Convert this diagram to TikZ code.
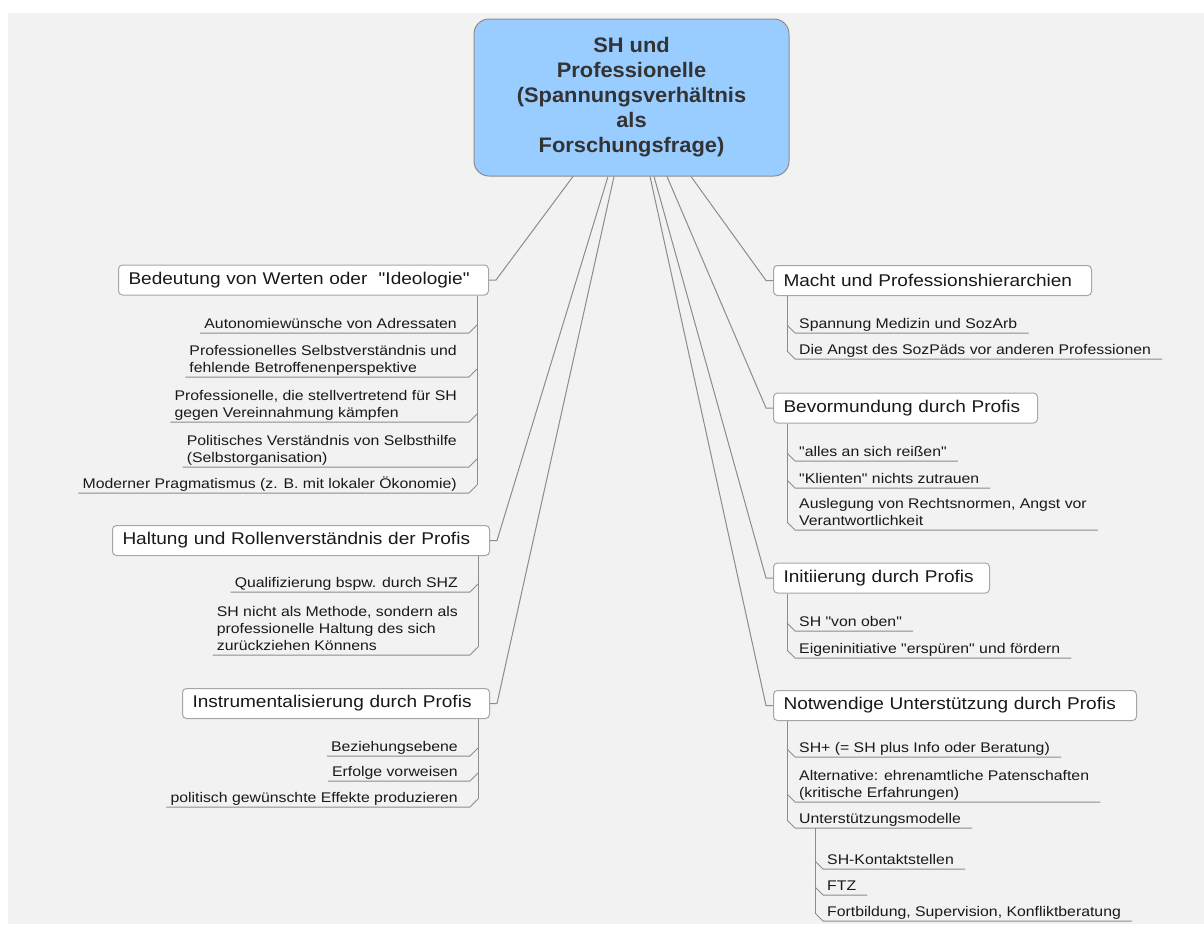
\documentclass[tikz,border=0pt]{standalone}
\usepackage{fontspec}
\setmainfont{Liberation Sans}
\newfontfamily\rootfont[FakeStretch=1.04]{Liberation Sans}
\newfontfamily\branchfont[FakeStretch=1.12]{Liberation Sans}
\newfontfamily\itemfont[FakeStretch=1.13]{Liberation Sans}
\definecolor{rootblue}{RGB}{153,204,255}

\begin{document}
\begin{tikzpicture}[x=1pt, y=-1pt,
    link/.style={draw=black!45, line width=1pt},
    root/.style={draw=black!45, fill=rootblue, line width=1pt, rounded corners=15pt,
        minimum width=315pt, minimum height=157pt, align=center, text=black!80,
        font=\rootfont\bfseries\fontsize{21}{25}\selectfont},
    branch/.style={draw=black!35, fill=white, line width=1pt, rounded corners=4pt,
        minimum height=30pt, inner xsep=10pt, inner ysep=0pt, align=left, text=black!90,
        font=\branchfont\fontsize{17}{20}\selectfont},
    subl/.style={anchor=south east, inner xsep=4pt, inner ysep=0pt, text depth=4pt,
        align=left, text=black!90, font=\itemfont\fontsize{14}{17}\selectfont},
    subr/.style={subl, anchor=south west}]

% Border and background
\useasboundingbox (0,0) rectangle (1204,924);
\fill [black!5] (8,13) rectangle (1204,924);

% Central topic
\node [root] (root) at (631.5,97.5) {SH und\\Professionelle\\(Spannungsverhältnis\\als\\Forschungsfrage)};

%%%%%%%%%%%%%%%%%%%%%% LEFT SIDE %%%%%%%%%%%%%%%%%%%%%%

\node [branch, text width=350pt, anchor=east] (werte) at (489,280) {Bedeutung von Werten oder\ \ "Ideologie"};
\node [branch, text width=357pt, anchor=east] (haltung) at (490,540.5) {Haltung und Rollenverständnis der Profis};
\node [branch, text width=287pt, anchor=east] (instr) at (490,703.5) {Instrumentalisierung durch Profis};

\draw [link] ([xshift=-58.5pt]root.south) -- ([xshift=7pt]werte.east) -- (werte.east);
\draw [link] ([xshift=-23.5pt]root.south) -- ([xshift=7pt]haltung.east) -- (haltung.east);
\draw [link] ([xshift=-17.5pt]root.south) -- ([xshift=7pt]instr.east) -- (instr.east);

% Werte
\node [subl] (w1) at (461,333) {Autonomiewünsche von Adressaten};
\node [subl] (w2) at (461,377) {Professionelles Selbstverständnis und\\fehlende Betroffenenperspektive};
\node [subl] (w3) at (461,422) {Professionelle, die stellvertretend für SH\\gegen Vereinnahmung kämpfen};
\node [subl] (w4) at (461,467) {Politisches Verständnis von Selbsthilfe\\(Selbstorganisation)};
\node [subl] (w5) at (461,493) {Moderner Pragmatismus (z. B. mit lokaler Ökonomie)};
\draw [link] (w1.south west) -- ([xshift=8pt]w1.south east) -- ++(8,-8) coordinate (w1k);
\draw [link] (w2.south west) -- ([xshift=8pt]w2.south east) -- ++(8,-8) coordinate (w2k);
\draw [link] (w3.south west) -- ([xshift=8pt]w3.south east) -- ++(8,-8) coordinate (w3k);
\draw [link] (w4.south west) -- ([xshift=8pt]w4.south east) -- ++(8,-8) coordinate (w4k);
\draw [link] (w5.south west) -- ([xshift=8pt]w5.south east) -- ++(8,-8) coordinate (w5k);
\draw [link] (werte.south -| w5k) -- (w5k);

% Haltung
\node [subl] (h1) at (462,592) {Qualifizierung bspw. durch SHZ};
\node [subl] (h2) at (462,655) {SH nicht als Methode, sondern als\\professionelle Haltung des sich\\zurückziehen Könnens};
\draw [link] (h1.south west) -- ([xshift=8pt]h1.south east) -- ++(8,-8) coordinate (h1k);
\draw [link] (h2.south west) -- ([xshift=8pt]h2.south east) -- ++(8,-8) coordinate (h2k);
\draw [link] (haltung.south -| h2k) -- (h2k);

% Instrumentalisierung
\node [subl] (i1) at (462,756) {Beziehungsebene};
\node [subl] (i2) at (462,781) {Erfolge vorweisen};
\node [subl] (i3) at (462,807) {politisch gewünschte Effekte produzieren};
\draw [link] (i1.south west) -- ([xshift=8pt]i1.south east) -- ++(8,-8) coordinate (i1k);
\draw [link] (i2.south west) -- ([xshift=8pt]i2.south east) -- ++(8,-8) coordinate (i2k);
\draw [link] (i3.south west) -- ([xshift=8pt]i3.south east) -- ++(8,-8) coordinate (i3k);
\draw [link] (instr.south -| i3k) -- (i3k);

%%%%%%%%%%%%%%%%%%%%%% RIGHT SIDE %%%%%%%%%%%%%%%%%%%%%%

\node [branch, text width=298pt, anchor=west] (macht) at (773,280.5) {Macht und Professionshierarchien};
\node [branch, text width=244pt, anchor=west] (bevor) at (773,408) {Bevormundung durch Profis};
\node [branch, text width=196pt, anchor=west] (init) at (773,578) {Initiierung durch Profis};
\node [branch, text width=343pt, anchor=west] (notw) at (773,705.5) {Notwendige Unterstützung durch Profis};

\draw [link] ([xshift=59.5pt]root.south) -- ([xshift=-7pt]macht.west) -- (macht.west);
\draw [link] ([xshift=35.5pt]root.south) -- ([xshift=-7pt]bevor.west) -- (bevor.west);
\draw [link] ([xshift=22.5pt]root.south) -- ([xshift=-7pt]init.west) -- (init.west);
\draw [link] ([xshift=18.5pt]root.south) -- ([xshift=-7pt]notw.west) -- (notw.west);

% Macht
\node [subr] (m1) at (795,333) {Spannung Medizin und SozArb};
\node [subr] (m2) at (795,359) {Die Angst des SozPäds vor anderen Professionen};
\draw [link] ([xshift=7pt]m1.south east) -- (m1.south west) -- ++(-8,-8) coordinate (m1k);
\draw [link] ([xshift=7pt]m2.south east) -- (m2.south west) -- ++(-8,-8) coordinate (m2k);
\draw [link] (macht.south -| m2k) -- (m2k);

% Bevormundung
\node [subr] (b1) at (795,461) {"alles an sich reißen"};
\node [subr] (b2) at (795,488) {"Klienten" nichts zutrauen};
\node [subr] (b3) at (795,530) {Auslegung von Rechtsnormen, Angst vor\\Verantwortlichkeit};
\draw [link] ([xshift=7pt]b1.south east) -- (b1.south west) -- ++(-8,-8) coordinate (b1k);
\draw [link] ([xshift=7pt]b2.south east) -- (b2.south west) -- ++(-8,-8) coordinate (b2k);
\draw [link] ([xshift=7pt]b3.south east) -- (b3.south west) -- ++(-8,-8) coordinate (b3k);
\draw [link] (bevor.south -| b3k) -- (b3k);

% Initiierung
\node [subr] (p1) at (795,631) {SH "von oben"};
\node [subr] (p2) at (795,658) {Eigeninitiative "erspüren" und fördern};
\draw [link] ([xshift=7pt]p1.south east) -- (p1.south west) -- ++(-8,-8) coordinate (p1k);
\draw [link] ([xshift=7pt]p2.south east) -- (p2.south west) -- ++(-8,-8) coordinate (p2k);
\draw [link] (init.south -| p2k) -- (p2k);

% Notwendige Unterstuetzung
\node [subr] (n1) at (795,757) {SH+ (= SH plus Info oder Beratung)};
\node [subr] (n2) at (795,802) {Alternative: ehrenamtliche Patenschaften\\(kritische Erfahrungen)};
\node [subr] (n3) at (795,828) {Unterstützungsmodelle};
\draw [link] ([xshift=7pt]n1.south east) -- (n1.south west) -- ++(-8,-8) coordinate (n1k);
\draw [link] ([xshift=7pt]n2.south east) -- (n2.south west) -- ++(-8,-8) coordinate (n2k);
\draw [link] ([xshift=7pt]n3.south east) -- (n3.south west) -- ++(-8,-8) coordinate (n3k);
\draw [link] (notw.south -| n3k) -- (n3k);

    % Unterstuetzungsmodelle
    \node [subr] (s1) at (823,869) {SH-Kontaktstellen};
    \node [subr] (s2) at (823,895) {FTZ};
    \node [subr] (s3) at (823,921) {Fortbildung, Supervision, Konfliktberatung};
    \draw [link] ([xshift=7pt]s1.south east) -- (s1.south west) -- ++(-8,-8) coordinate (s1k);
    \draw [link] ([xshift=7pt]s2.south east) -- (s2.south west) -- ++(-8,-8) coordinate (s2k);
    \draw [link] ([xshift=7pt]s3.south east) -- (s3.south west) -- ++(-8,-8) coordinate (s3k);
    \draw [link] (n3.south -| s3k) -- (s3k);

\end{tikzpicture}
\end{document}
